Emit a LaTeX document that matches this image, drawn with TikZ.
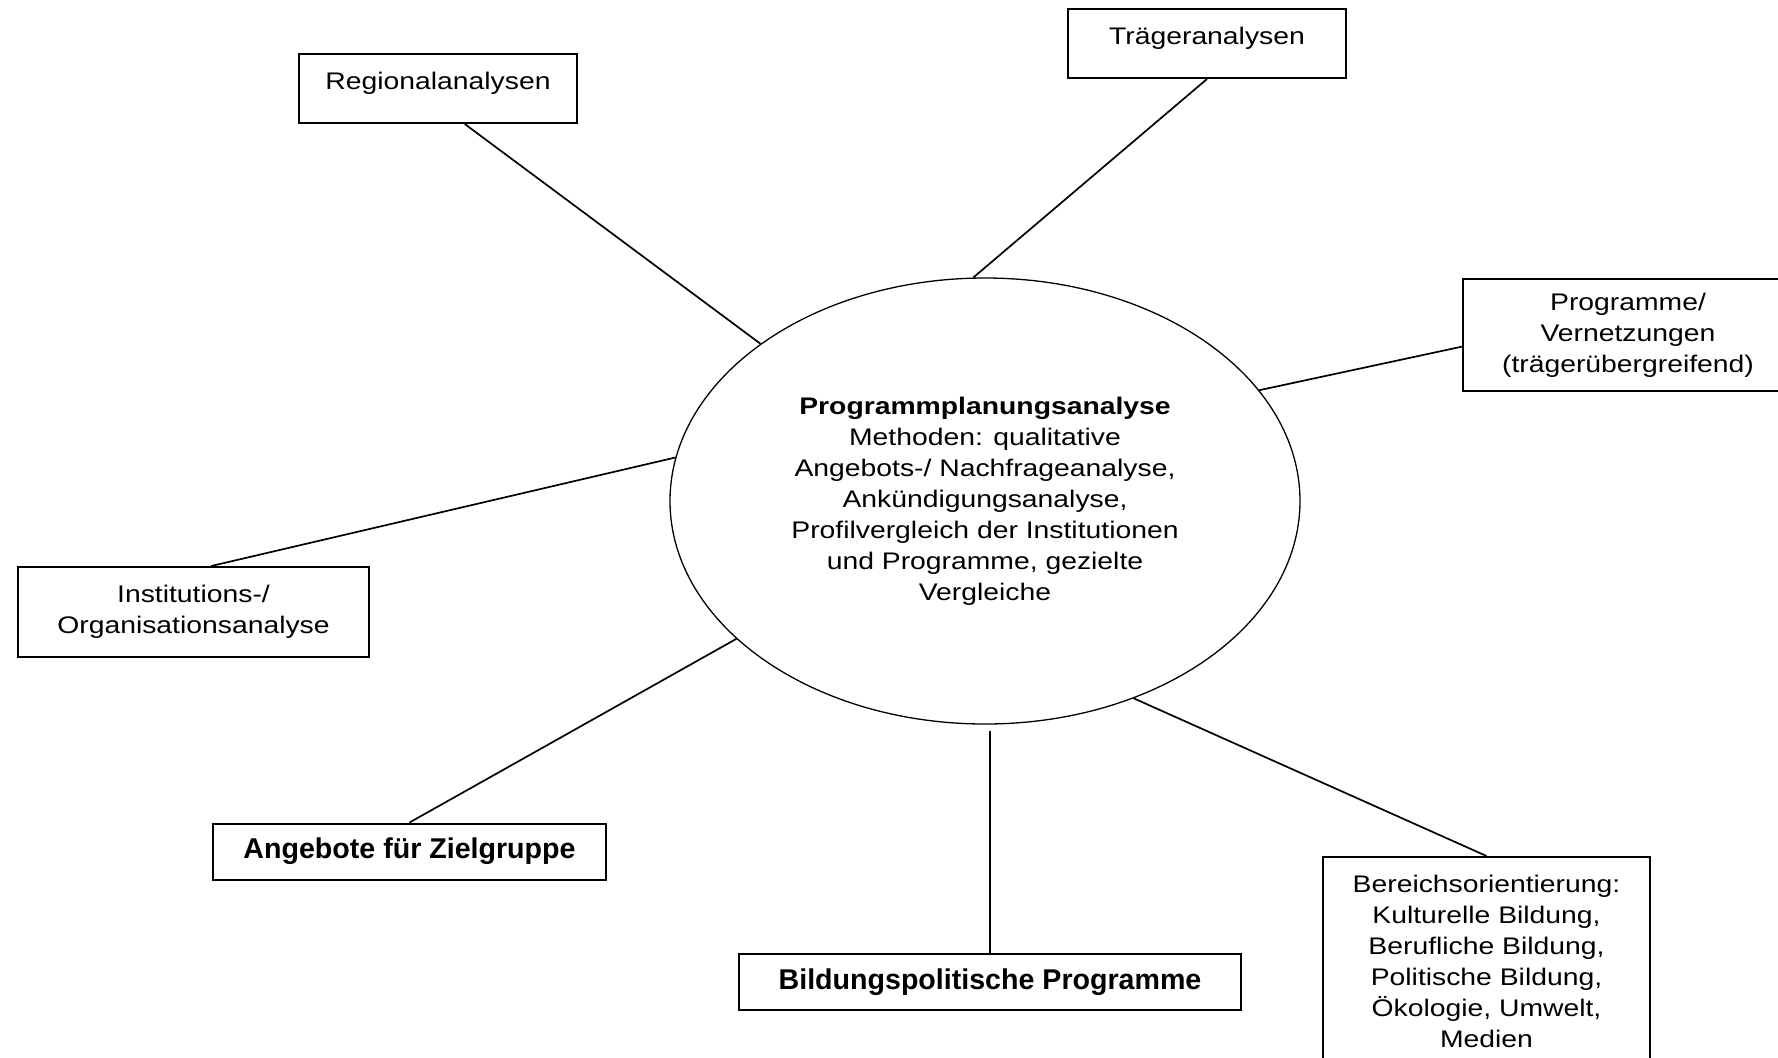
\documentclass[tikz,border=0pt]{standalone}
\usepackage{fontspec}
\setmainfont{Liberation Sans}
\newfontfamily\widefont[FakeStretch=1.18]{Liberation Sans}
\usetikzlibrary{shapes.geometric}

\begin{document}
\begin{tikzpicture}[x=0.5pt,y=-0.5pt,box/.style={rectangle,draw,line width=1pt,align=center,inner sep=2pt},font=\widefont\fontsize{12}{15.5}\selectfont]
            \tikzstyle{one line}=[box,text height=8.5pt,text depth=7.5pt,minimum height=34.5pt]
            \tikzstyle{bold box}=[box,font=\bfseries\fontsize{14.3}{17}\selectfont,minimum height=28pt]
            \tikzstyle{link}=[line width=0.85pt]
            \useasboundingbox (0,0) rectangle (1778,1057);
            \clip (0,0) rectangle (1778,1057);
            % centre
            \node(plan)[ellipse,draw,line width=0.65pt,minimum width=315pt,minimum height=223pt,inner sep=0pt,align=center] at (985,501)
              {\textbf{Programmplanungsanalyse}\\Methoden: qualitative\\Angebots-/ Nachfrageanalyse,\\Ankündigungsanalyse,\\Profilvergleich der Institutionen\\und Programme, gezielte\\Vergleiche};
            % boxes round it
            \node(reg)[one line,minimum width=139pt] at (438,88.5) {Regionalanalysen};
            \node(trg)[one line,minimum width=139pt] at (1207,43.5) {Trägeranalysen};
            \node(prog)[box,minimum width=165pt,minimum height=56pt] at (1628,335) {Programme/\\Vernetzungen\\(trägerübergreifend)};
            \node(inst)[box,minimum width=175.5pt,minimum height=45pt] at (193.5,612) {Institutions-/\\Organisationsanalyse};
            \node(ang)[bold box,minimum width=196.5pt] at (409.5,851.5) {Angebote für Zielgruppe};
            \node(bild)[bold box,minimum width=251pt] at (990,982) {Bildungspolitische Programme};
            \node(ber)[box,minimum width=163.5pt,minimum height=104pt] at (1486.5,961) {Bereichsorientierung:\\Kulturelle Bildung,\\Berufliche Bildung,\\Politische Bildung,\\Ökologie, Umwelt,\\Medien};
            % connectors
            \draw[link] (reg.-53) -- (plan.145);
            \draw[link] (trg.south) -- (plan.93);
            \draw[link] (prog.184) -- (plan.22.5);
            \draw[link] (inst.69) -- (plan.172);
            \draw[link] (ang.north) -- (plan.209.6);
            \draw[link,shorten <=3pt] (bild.north |- plan.south) -- (bild.north);
            \draw[link] (ber.north) -- (plan.-53);
          \end{tikzpicture}
\end{document}
